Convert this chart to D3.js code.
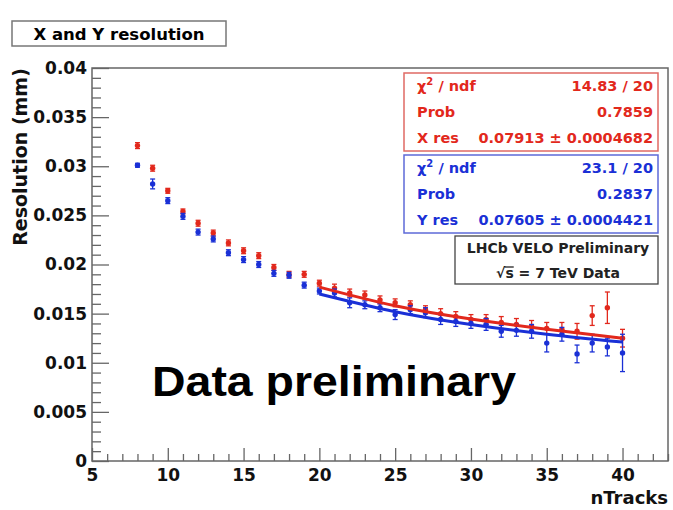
<!DOCTYPE html>
<html>
<head>
<meta charset="utf-8">
<script src="https://cdn.jsdelivr.net/npm/d3@7"></script>
<style>
  body { margin: 0; background: #fff; }
  svg text { font-weight: bold; }
</style>
</head>
<body>
<svg id="chart" width="673" height="510" font-family="'DejaVu Sans', sans-serif"></svg>
<script>
// data
const nTracks = [8, 9, 10, 11, 12, 13, 14, 15, 16, 17, 18, 19, 20, 21, 22, 23, 24,
  25, 26, 27, 28, 29, 30, 31, 32, 33, 34, 35, 36, 37, 38, 39, 40];

// X resolution (red)
const xRes = [0.0321, 0.0298, 0.0275, 0.0254, 0.0242, 0.0232, 0.0222, 0.0214, 0.0209,
  0.0197, 0.0190, 0.0190, 0.0181, 0.0176, 0.0171, 0.0169, 0.0164, 0.0161, 0.0159,
  0.0154, 0.0150, 0.0147, 0.0144, 0.0144, 0.0141, 0.0139, 0.0137, 0.0135, 0.0134,
  0.0132, 0.0148, 0.0156, 0.0125];
const xErr = [0.0003, 0.0003, 0.00025, 0.00025, 0.0003, 0.0003, 0.0003, 0.0003, 0.0003,
  0.0003, 0.0003, 0.0003, 0.0003, 0.0004, 0.0004, 0.0004, 0.0004, 0.0004, 0.0004,
  0.0004, 0.0005, 0.0005, 0.0005, 0.0005, 0.0006, 0.0006, 0.0006, 0.0006, 0.0007,
  0.0008, 0.0010, 0.0016, 0.0009];

// Y resolution (blue)
const yRes = [0.0301, 0.0282, 0.0265, 0.0249, 0.0233, 0.0226, 0.0212, 0.0205, 0.0200,
  0.0191, 0.0189, 0.0179, 0.0173, 0.0171, 0.0161, 0.0159, 0.0156, 0.0149, 0.0154,
  0.0151, 0.0144, 0.0142, 0.0140, 0.0139, 0.0132, 0.0133, 0.0132, 0.0120, 0.0129,
  0.0109, 0.0120, 0.0116, 0.0110];
const yErr = [0.0002, 0.0005, 0.0003, 0.0003, 0.0003, 0.0003, 0.0003, 0.0003, 0.0003,
  0.0003, 0.0003, 0.0003, 0.0003, 0.0004, 0.0005, 0.0004, 0.0004, 0.0005, 0.0004,
  0.0005, 0.0005, 0.0005, 0.0005, 0.0006, 0.0006, 0.0006, 0.0007, 0.0009, 0.0007,
  0.0009, 0.0009, 0.0009, 0.0019];

// fit curves (as drawn, 20..40)
const fitN = [20, 25, 30, 35, 40];
const fitX = [0.0177, 0.0158, 0.01445, 0.0134, 0.0125];
const fitY = [0.0170, 0.0152, 0.0139, 0.0129, 0.0121];

const xMajor = [5, 10, 15, 20, 25, 30, 35, 40];
const yMajor = [0, 0.005, 0.01, 0.015, 0.02, 0.025, 0.03, 0.035, 0.04];
const yTickLabels = ['0', '0.005', '0.01', '0.015', '0.02', '0.025', '0.03', '0.035', '0.04'];

const statsX = [['χ', '14.83 / 20'], ['Prob', '0.7859'], ['X res', '0.07913 ± 0.0004682']];
const statsY = [['χ', '23.1 / 20'], ['Prob', '0.2837'], ['Y res', '0.07605 ± 0.0004421']];

const RED = '#e2281c';
const BLUE = '#1a30d6';

const svg = d3.select('#chart');
const frame = { left: 92, top: 68, right: 668, bottom: 461 };

const x = d3.scaleLinear().domain([5, 43]).range([frame.left, frame.right]);
const y = d3.scaleLinear().domain([0, 0.04]).range([frame.bottom, frame.top]);

// title box
svg.append('rect')
  .attr('x', 12).attr('y', 21).attr('width', 214).attr('height', 25)
  .attr('fill', '#fff').attr('stroke', '#777').attr('stroke-width', 1.5);
svg.append('text')
  .attr('x', 119).attr('y', 40)
  .attr('text-anchor', 'middle')
  .attr('font-size', 16.5)
  .text('X and Y resolution');

// plot frame
svg.append('rect')
  .attr('x', frame.left).attr('y', frame.top)
  .attr('width', frame.right - frame.left).attr('height', frame.bottom - frame.top)
  .attr('fill', 'none').attr('stroke', '#666').attr('stroke-width', 1.5);

// x axis: ticks point inside the frame
const xMinor = x.ticks(40).filter(v => Number.isInteger(v) && v % 5 !== 0);
svg.append('g')
  .attr('transform', `translate(0,${frame.bottom})`)
  .call(d3.axisBottom(x).tickValues(xMinor).tickSize(-7).tickFormat(''))
  .call(g => g.select('.domain').remove())
  .call(g => g.selectAll('line').attr('stroke', '#666').attr('stroke-width', 1.3));
svg.append('g')
  .attr('transform', `translate(0,${frame.bottom})`)
  .call(d3.axisBottom(x).tickValues(xMajor).tickSize(-13))
  .call(g => g.select('.domain').remove())
  .call(g => g.selectAll('line').attr('stroke', '#666').attr('stroke-width', 1.3))
  .call(g => g.selectAll('text')
    .attr('y', 8).attr('dy', '0.71em')
    .attr('font-size', 17)
    .attr('fill', '#111'));

// y axis
const yMinor = d3.range(0, 41).map(i => i / 1000).filter((v, i) => i % 5 !== 0);
svg.append('g')
  .attr('transform', `translate(${frame.left},0)`)
  .call(d3.axisLeft(y).tickValues(yMinor).tickSize(-9).tickFormat(''))
  .call(g => g.select('.domain').remove())
  .call(g => g.selectAll('line').attr('stroke', '#666').attr('stroke-width', 1.3));
svg.append('g')
  .attr('transform', `translate(${frame.left},0)`)
  .call(d3.axisLeft(y).tickValues(yMajor).tickSize(-17)
    .tickFormat((d, i) => yTickLabels[i]))
  .call(g => g.select('.domain').remove())
  .call(g => g.selectAll('line').attr('stroke', '#666').attr('stroke-width', 1.3))
  .call(g => g.selectAll('text')
    .attr('x', -5)
    .attr('font-size', 17)
    .attr('fill', '#111'));
// let the axis groups inherit DejaVu from the svg
svg.selectAll('g[font-family]').attr('font-family', null).attr('font-size', null);

// axis titles
svg.append('text')
  .attr('x', 668).attr('y', 504)
  .attr('text-anchor', 'end')
  .attr('font-size', 18)
  .attr('fill', '#111')
  .text('nTracks');
svg.append('text')
  .attr('transform', 'translate(27,157) rotate(-90)')
  .attr('text-anchor', 'middle')
  .attr('font-size', 19)
  .attr('fill', '#111')
  .text('Resolution (mm)');

// points with error bars
function drawSeries(vals, errs, color) {
  const pts = nTracks.map((n, i) => ({ n: n, v: vals[i], e: errs[i] }));
  const g = svg.append('g').attr('stroke', color).attr('fill', color);
  const bars = g.selectAll('g.pt').data(pts).enter().append('g').attr('class', 'pt');
  bars.append('line')
    .attr('x1', d => x(d.n)).attr('x2', d => x(d.n))
    .attr('y1', d => y(d.v - d.e)).attr('y2', d => y(d.v + d.e))
    .attr('stroke-width', 1.3);
  bars.append('line')
    .attr('x1', d => x(d.n) - 2.5).attr('x2', d => x(d.n) + 2.5)
    .attr('y1', d => y(d.v + d.e)).attr('y2', d => y(d.v + d.e))
    .attr('stroke-width', 1.3);
  bars.append('line')
    .attr('x1', d => x(d.n) - 2.5).attr('x2', d => x(d.n) + 2.5)
    .attr('y1', d => y(d.v - d.e)).attr('y2', d => y(d.v - d.e))
    .attr('stroke-width', 1.3);
  bars.append('circle')
    .attr('cx', d => x(d.n)).attr('cy', d => y(d.v))
    .attr('r', 2.7).attr('stroke', 'none');
}
drawSeries(xRes, xErr, RED);
drawSeries(yRes, yErr, BLUE);

// fit lines
const fitLine = d3.line().curve(d3.curveNatural);
svg.append('path')
  .attr('d', fitLine(fitN.map((n, i) => [x(n), y(fitX[i])])))
  .attr('fill', 'none').attr('stroke', RED).attr('stroke-width', 3);
svg.append('path')
  .attr('d', fitLine(fitN.map((n, i) => [x(n), y(fitY[i])])))
  .attr('fill', 'none').attr('stroke', BLUE).attr('stroke-width', 3);

// stat boxes
function statBox(top, rows, color, border) {
  svg.append('rect')
    .attr('x', 404).attr('y', top).attr('width', 254).attr('height', 78)
    .attr('fill', '#fff').attr('stroke', border).attr('stroke-width', 1.5);
  rows.forEach((r, i) => {
    const base = top + 18 + i * 26;
    const lab = svg.append('text')
      .attr('x', 417).attr('y', base)
      .attr('font-size', 14.5).attr('fill', color);
    lab.append('tspan').text(r[0]);
    if (r[0] === 'χ') {
      lab.append('tspan').attr('dy', -6).attr('font-size', 10).text('2');
      lab.append('tspan').attr('dy', 6).text(' / ndf');
    }
    svg.append('text')
      .attr('x', 653).attr('y', base)
      .attr('text-anchor', 'end')
      .attr('font-size', 14.5).attr('fill', color)
      .text(r[1]);
  });
}
statBox(73, statsX, RED, '#e06a64');
statBox(155, statsY, BLUE, '#5d6ad8');

// LHCb label box
svg.append('rect')
  .attr('x', 455).attr('y', 236).attr('width', 203).attr('height', 48)
  .attr('fill', '#fff').attr('stroke', '#444').attr('stroke-width', 1.3);
svg.append('text')
  .attr('x', 558).attr('y', 253)
  .attr('text-anchor', 'middle')
  .attr('font-size', 14).attr('fill', '#222')
  .text('LHCb VELO Preliminary');
const sqrtText = svg.append('text')
  .attr('x', 558).attr('y', 278)
  .attr('text-anchor', 'middle')
  .attr('font-size', 14).attr('fill', '#222')
  .text('√s = 7 TeV Data');
// bar over the "s" of the square root
const rootBox = sqrtText.node().getExtentOfChar(0);
const sBox = sqrtText.node().getExtentOfChar(1);
svg.append('line')
  .attr('x1', rootBox.x + rootBox.width - 1).attr('x2', sBox.x + sBox.width)
  .attr('y1', rootBox.y + 2).attr('y2', rootBox.y + 2)
  .attr('stroke', '#222').attr('stroke-width', 1.3);

// big overlay label
svg.append('text')
  .attr('x', 152).attr('y', 396)
  .attr('font-family', '"Liberation Sans", Arial, sans-serif')
  .attr('font-size', 42)
  .attr('textLength', 364).attr('lengthAdjust', 'spacingAndGlyphs')
  .attr('fill', '#000')
  .text('Data preliminary');
</script>
</body>
</html>
